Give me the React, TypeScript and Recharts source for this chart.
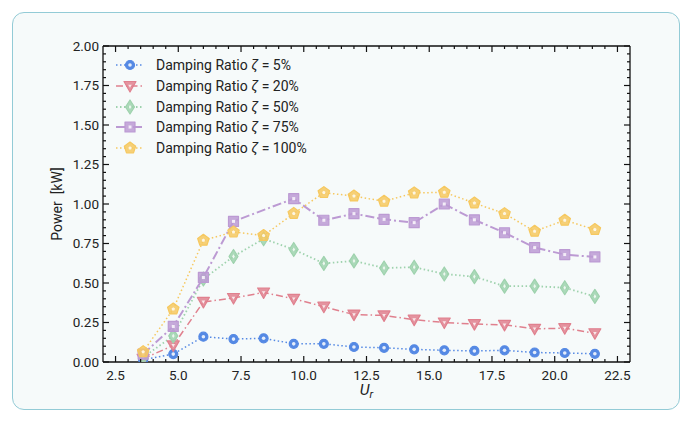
import React from 'react';
import { LineChart, Line, XAxis, YAxis, Legend } from 'recharts';

const X_VALUES = [3.6, 4.8, 6.0, 7.2, 8.4, 9.6, 10.8, 12.0, 13.2, 14.4, 15.6, 16.8, 18.0, 19.2, 20.4, 21.6];
const ZETA_5 = [0.015, 0.05, 0.16, 0.145, 0.15, 0.115, 0.115, 0.095, 0.09, 0.08, 0.074, 0.07, 0.074, 0.06, 0.057, 0.052];
const ZETA_20 = [0.02, 0.105, 0.38, 0.405, 0.44, 0.4, 0.35, 0.3, 0.295, 0.268, 0.25, 0.24, 0.235, 0.21, 0.214, 0.182];
const ZETA_50 = [0.03, 0.165, 0.525, 0.668, 0.78, 0.712, 0.624, 0.64, 0.595, 0.6, 0.557, 0.54, 0.48, 0.48, 0.47, 0.415];
const ZETA_75 = [0.05, 0.225, 0.535, 0.89, null, 1.034, 0.897, 0.939, 0.903, 0.882, 1.0, 0.9, 0.818, 0.724, 0.68, 0.665];
const ZETA_100 = [0.065, 0.335, 0.77, 0.823, 0.8, 0.94, 1.072, 1.05, 1.017, 1.07, 1.074, 1.006, 0.939, 0.827, 0.897, 0.838];

const SERIES_LABELS = ['5%', '20%', '50%', '75%', '100%'];

// major ticks every 2.5 / 0.25, minor every 0.5 / 0.05
const X_TICKS = Array.from({ length: 41 }, (_, i) => +(2.5 + i * 0.5).toFixed(2)).filter((v) => v < 23);
const Y_TICKS = Array.from({ length: 41 }, (_, i) => +(i * 0.05).toFixed(2));

const data = X_VALUES.map((x, i) => ({
  x,
  z5: ZETA_5[i],
  z20: ZETA_20[i],
  z50: ZETA_50[i],
  z75: ZETA_75[i],
  z100: ZETA_100[i],
}));

const SERIES = [
  { key: 'z5', color: '#5589e4', dash: '1.5 2.5', width: 1.5, shape: 'circle' },
  { key: 'z20', color: '#e0808e', dash: '7 3 1.5 3', width: 1.5, shape: 'triangle' },
  { key: 'z50', color: '#9ed2ad', dash: '1.5 2.5', width: 1.8, shape: 'diamond' },
  { key: 'z75', color: '#bc9ad3', dash: '9 3 2 3', width: 2, shape: 'square' },
  { key: 'z100', color: '#f6c85f', dash: '1.5 2.5', width: 1.5, shape: 'pentagon' },
];

const FONT = 'Roboto, "Noto Sans", sans-serif';
const TEXT = '#222';

function polygon(cx: number, cy: number, pts: number[][], s: number) {
  return pts.map(([a, b]) => `${cx + a * s},${cy + b * s}`).join(' ');
}

const SHAPES: Record<string, number[][]> = {
  triangle: [[-6, -4.5], [6, -4.5], [0, 6]],
  diamond: [[0, -7], [4.5, 0], [0, 7], [-4.5, 0]],
  square: [[-5, -5], [5, -5], [5, 5], [-5, 5]],
  pentagon: [0, 1, 2, 3, 4].map((k) => {
    const a = -Math.PI / 2 + (k * 2 * Math.PI) / 5;
    return [6 * Math.cos(a), 6 * Math.sin(a)];
  }),
};

function Marker({ cx, cy, shape, color }: { cx: number; cy: number; shape: string; color: string }) {
  if (shape === 'circle') {
    return (
      <g>
        <circle cx={cx} cy={cy} r={4.5} fill={color} stroke={color} strokeWidth={1.2} />
        <circle cx={cx} cy={cy} r={1.8} fill="#fff" fillOpacity={0.85} />
      </g>
    );
  }
  const pts = SHAPES[shape];
  return (
    <g>
      <polygon points={polygon(cx, cy, pts, 1)} fill={color} fillOpacity={0.85} stroke={color} strokeWidth={1.2} strokeLinejoin="round" />
      <polygon points={polygon(cx, cy, pts, 0.3)} fill="#fff" fillOpacity={0.8} />
    </g>
  );
}

const isMajor = (v: number, step: number) => Math.abs(v / step - Math.round(v / step)) < 1e-6;

function BottomTick({ x, y, payload }: any) {
  const major = isMajor(payload.value, 2.5);
  return (
    <g>
      <line x1={x} x2={x} y1={y} y2={y - (major ? 6 : 3)} stroke="#111" strokeWidth={1.2} />
      {major && (
        <text x={x} y={y + 17.5} textAnchor="middle" fontSize={13.5} fontFamily={FONT} fill={TEXT}>
          {payload.value.toFixed(1)}
        </text>
      )}
    </g>
  );
}

function TopTick({ x, y, payload }: any) {
  const major = isMajor(payload.value, 2.5);
  return <line x1={x} x2={x} y1={y} y2={y + (major ? 6 : 3)} stroke="#111" strokeWidth={1.2} />;
}

function LeftTick({ x, y, payload }: any) {
  const major = isMajor(payload.value, 0.25);
  return (
    <g>
      <line x1={x} x2={x + (major ? 6 : 3)} y1={y} y2={y} stroke="#111" strokeWidth={1.2} />
      {major && (
        <text x={x - 4} y={y + 4.7} textAnchor="end" fontSize={13.5} fontFamily={FONT} fill={TEXT}>
          {payload.value.toFixed(2)}
        </text>
      )}
    </g>
  );
}

function RightTick({ x, y, payload }: any) {
  const major = isMajor(payload.value, 0.25);
  return <line x1={x} x2={x - (major ? 6 : 3)} y1={y} y2={y} stroke="#111" strokeWidth={1.2} />;
}

function LegendBox() {
  return (
    <div style={{ fontFamily: FONT, fontSize: 14, color: TEXT, lineHeight: 1 }}>
      {SERIES.map((s, i) => (
        <div key={s.key} style={{ display: 'flex', alignItems: 'center', height: 20.8 }}>
          <svg width={30} height={16} style={{ marginRight: 11, flex: 'none' }}>
            <line x1={1} x2={29} y1={8} y2={8} stroke={s.color} strokeWidth={s.width} strokeDasharray={s.dash} />
            <Marker cx={15} cy={8} shape={s.shape} color={s.color} />
          </svg>
          <span style={{ whiteSpace: 'nowrap' }}>
            Damping Ratio <i>ζ</i> = {SERIES_LABELS[i]}
          </span>
        </div>
      ))}
    </div>
  );
}

export default function App() {
  return (
    <div style={{ position: 'relative', width: 683, height: 413, background: '#fff' }}>
      <div
        style={{
          position: 'absolute',
          left: 4,
          top: 4,
          width: 668,
          height: 398,
          boxSizing: 'border-box',
          border: '1.5px solid #93cbd6',
          borderRadius: 12,
          background: '#f6fafa',
        }}
      />
      <div style={{ position: 'absolute', left: 0, top: 0 }}>
        <LineChart width={683} height={413} data={data} margin={{ top: 37, right: 60, bottom: 19, left: 35 }}>
          <XAxis
            dataKey="x"
            type="number"
            domain={[2, 23]}
            ticks={X_TICKS}
            interval={0}
            height={40}
            tickSize={0}
            tickMargin={0}
            tickLine={false}
            tick={<BottomTick />}
            axisLine={{ stroke: '#111', strokeWidth: 1.3 }}
            allowDataOverflow
            label={{
              value: 'U',
              content: ({ viewBox }: any) => (
                <text x={viewBox.x + viewBox.width / 2} y={viewBox.y + 33} textAnchor="middle" fontSize={15.5} fontFamily={FONT} fill={TEXT} fontStyle="italic">
                  U<tspan fontSize={11} dy={3}>r</tspan>
                </text>
              ),
            }}
          />
          <XAxis
            xAxisId="top"
            orientation="top"
            dataKey="x"
            type="number"
            domain={[2, 23]}
            ticks={X_TICKS}
            interval={0}
            height={1}
            tickSize={0}
            tickMargin={0}
            tickLine={false}
            tick={<TopTick />}
            axisLine={{ stroke: '#111', strokeWidth: 1.3 }}
            allowDataOverflow
          />
          <YAxis
            type="number"
            domain={[0, 2]}
            ticks={Y_TICKS}
            interval={0}
            width={60}
            tickSize={0}
            tickMargin={0}
            tickLine={false}
            tick={<LeftTick />}
            axisLine={{ stroke: '#111', strokeWidth: 1.3 }}
            allowDataOverflow
            label={{
              value: 'Power',
              content: ({ viewBox }: any) => {
                const lx = viewBox.x + 18.7;
                const ly = viewBox.y + viewBox.height / 2;
                return (
                  <text x={lx} y={ly} textAnchor="middle" fontSize={14} fontFamily={FONT} fill={TEXT} transform={`rotate(-90 ${lx} ${ly})`}>
                    {'Power\u00a0\u00a0[kW]'}
                  </text>
                );
              },
            }}
          />
          <YAxis
            yAxisId="right"
            orientation="right"
            type="number"
            domain={[0, 2]}
            ticks={Y_TICKS}
            interval={0}
            width={1}
            tickSize={0}
            tickMargin={0}
            tickLine={false}
            tick={<RightTick />}
            axisLine={{ stroke: '#111', strokeWidth: 1.3 }}
            allowDataOverflow
          />
          <Legend
            layout="vertical"
            align="center"
            verticalAlign="middle"
            content={() => <LegendBox />}
            wrapperStyle={{ position: 'absolute', left: 107, top: 46.6, width: 260 }}
          />
          {SERIES.map((s, i) => (
            <Line
              key={s.key}
              dataKey={s.key}
              xAxisId={i === SERIES.length - 1 ? 'top' : 0}
              yAxisId={i === SERIES.length - 1 ? 'right' : 0}
              stroke={s.color}
              strokeWidth={s.width}
              strokeDasharray={s.dash}
              connectNulls
              isAnimationActive={false}
              dot={(p: any) =>
                p.cx == null || p.cy == null || p.value == null ? (
                  <g key={`${s.key}-${p.index}`} />
                ) : (
                  <Marker key={`${s.key}-${p.index}`} cx={p.cx} cy={p.cy} shape={s.shape} color={s.color} />
                )
              }
              activeDot={false}
            />
          ))}
        </LineChart>
      </div>
    </div>
  );
}
